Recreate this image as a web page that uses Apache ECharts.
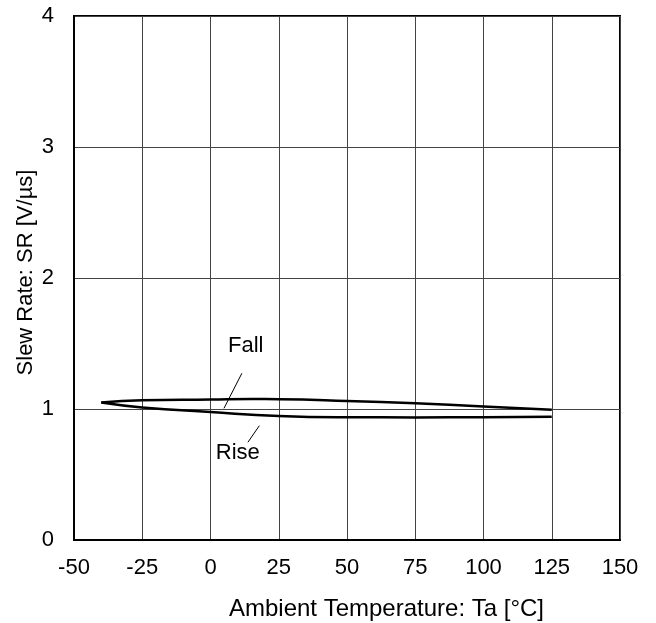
<!DOCTYPE html>
<html><head><meta charset="utf-8">
<script src="https://cdn.jsdelivr.net/npm/echarts@6/dist/echarts.min.js"></script>
<style>html,body{margin:0;padding:0;background:#fff}#c{width:656px;height:623px}</style>
</head><body><div id="c"></div>
<script>
const xTicks = [-50, -25, 0, 25, 50, 75, 100, 125, 150];
const yTicks = [0, 1, 2, 3, 4];
const fallTemp = [-40, -25, 0, 15, 25, 50, 75, 100, 125];
const fallSR   = [1.05, 1.066, 1.072, 1.076, 1.075, 1.062, 1.043, 1.02, 0.995];
const riseTemp = [-40, -25, 0, 25, 50, 75, 100, 125];
const riseSR   = [1.05, 1.012, 0.977, 0.947, 0.937, 0.936, 0.937, 0.94];
const labelNames = ['Fall', 'Rise'];
const labelPos = [[12.9, 1.482], [10.0, 0.662]];
const leaderLines = [[[11.5, 1.273], [4.93, 1.005]], [[17.9, 0.873], [13.7, 0.746]]];

const font = '"Liberation Sans", Arial, sans-serif';
const FS = 22;
const chart = echarts.init(document.getElementById('c'));
const zip = (a, b) => a.map((v, i) => [v, b[i]]);
chart.setOption({
  animation: false,
  grid: {left: 74, right: 36, top: 16, bottom: 83, show: true, borderColor: '#000', borderWidth: 2, backgroundColor: 'transparent'},
  xAxis: {
    type: 'value', min: xTicks[0], max: xTicks[xTicks.length - 1], interval: 25,
    axisLine: {show: true, onZero: false, lineStyle: {color: '#000', width: 2}},
    axisTick: {show: false},
    axisLabel: {color: '#000', fontSize: FS, fontFamily: font, margin: 17},
    splitLine: {show: true, lineStyle: {color: '#444', width: 1}}
  },
  yAxis: {
    type: 'value', min: yTicks[0], max: yTicks[yTicks.length - 1], interval: 1,
    axisLine: {show: true, onZero: false, lineStyle: {color: '#000', width: 2}},
    axisTick: {show: false},
    axisLabel: {color: '#000', fontSize: FS, fontFamily: font, margin: 20},
    splitLine: {show: true, lineStyle: {color: '#444', width: 1}}
  },
  graphic: [
    {type: 'text', x: 386.5, y: 609, style: {text: 'Ambient Temperature: Ta [°C]', fill: '#000', font: '24px ' + font, align: 'center', verticalAlign: 'middle'}},
    {type: 'text', x: 26, y: 272.5, rotation: Math.PI / 2, style: {text: 'Slew Rate: SR [V/µs]', fill: '#000', font: FS + 'px ' + font, align: 'center', verticalAlign: 'middle'}}
  ],
  series: [
    {type: 'line', data: zip(fallTemp, fallSR), smooth: true, symbol: 'none',
     lineStyle: {color: '#000', width: 2.5},
     markLine: {silent: true, symbol: 'none', label: {show: false}, lineStyle: {color: '#000', width: 1, type: 'solid', opacity: 1},
       data: leaderLines.map(l => [{coord: l[0]}, {coord: l[1]}])}},
    {type: 'line', data: zip(riseTemp, riseSR), smooth: true, symbol: 'none',
     lineStyle: {color: '#000', width: 2.5}},
    {type: 'scatter', symbolSize: 0, silent: true, itemStyle: {opacity: 1, color: '#000'},
     data: labelNames.map((n, i) => ({value: labelPos[i], name: n})),
     label: {show: true, position: 'inside', formatter: p => p.name, color: '#000', opacity: 1, fontSize: FS, fontFamily: font}}
  ]
});
</script></body></html>
